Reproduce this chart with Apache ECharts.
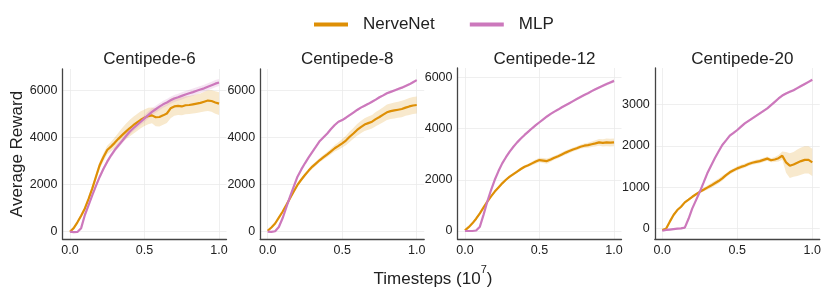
<!DOCTYPE html>
<html><head><meta charset="utf-8">
<script src="https://cdn.jsdelivr.net/npm/echarts@6/dist/echarts.min.js"></script>
<style>html,body{margin:0;padding:0;background:#fff}#c{width:830px;height:295px}</style>
</head><body><div id="c"></div>
<script>
const xs = [0,0.025,0.05,0.075,0.1,0.125,0.15,0.175,0.2,0.225,0.25,0.275,0.3,0.325,0.35,0.375,0.4,0.425,0.45,0.475,0.5,0.525,0.55,0.575,0.6,0.625,0.65,0.675,0.7,0.725,0.75,0.775,0.8,0.825,0.85,0.875,0.9,0.925,0.95,0.975,1.0];
const titles = ['Centipede-6','Centipede-8','Centipede-12','Centipede-20'];
const xTicks = [0,0.5,1.0];
const yTicks = [[0,2000,4000,6000],[0,2000,4000,6000],[0,2000,4000,6000],[0,1000,2000,3000]];

// Centipede-6
const nerve6 = [0,150,400,680,990,1400,1840,2350,2840,3180,3475,3620,3780,3950,4110,4260,4400,4530,4650,4760,4850,4920,4950,4870,4880,4950,5030,5250,5330,5350,5330,5380,5390,5420,5450,5480,5530,5580,5560,5500,5450];
const nerve6Sd = [20,40,60,80,100,120,140,150,160,170,180,200,230,260,300,330,350,360,360,360,350,350,340,380,400,400,400,420,400,380,380,380,380,390,400,400,420,440,460,480,480];
const mlp6 = [0,-20,-10,150,710,1130,1560,1960,2340,2680,2980,3240,3475,3670,3860,4060,4255,4400,4540,4680,4820,4960,5100,5210,5320,5420,5500,5590,5670,5720,5780,5840,5890,5940,6000,6050,6100,6170,6230,6300,6350];
const mlp6Sd = [20,20,30,50,60,70,80,80,90,90,100,100,110,110,120,120,130,130,140,140,150,150,150,150,150,150,150,150,150,150,150,150,150,150,150,150,150,150,150,150,150];
// Centipede-8
const nerve8 = [40,180,350,600,850,1130,1420,1710,1990,2210,2410,2600,2770,2910,3050,3170,3290,3420,3550,3650,3760,3880,4040,4180,4330,4450,4560,4620,4680,4790,4880,4980,5080,5130,5160,5190,5220,5280,5330,5370,5390];
const nerve8Sd = [20,30,40,50,60,60,70,70,80,80,80,80,90,90,100,100,110,120,140,160,180,200,220,230,250,260,270,280,290,300,310,320,330,330,340,340,350,350,360,360,360];
const mlp8 = [0,-10,20,200,570,1030,1490,1920,2340,2640,2910,3160,3400,3630,3860,4020,4180,4370,4540,4680,4750,4850,4960,5070,5180,5280,5360,5440,5530,5620,5720,5800,5890,5950,6010,6070,6130,6200,6270,6360,6450];
const mlp8Sd = [20,20,30,30,40,40,40,40,50,50,50,50,50,50,50,50,50,50,50,50,50,50,50,50,50,50,50,50,50,50,50,50,50,50,50,50,50,50,50,50,50];
// Centipede-12
const nerve12 = [25,150,300,480,690,920,1150,1350,1540,1700,1860,2000,2120,2220,2320,2420,2510,2570,2640,2710,2770,2750,2730,2790,2860,2920,2990,3060,3120,3180,3230,3290,3330,3350,3385,3420,3460,3440,3460,3450,3460];
const nerve12Sd = [10,20,30,40,40,50,50,50,50,50,50,50,50,50,50,60,60,60,70,80,90,100,100,90,80,80,80,80,80,80,80,80,90,100,110,120,130,140,150,150,150];
const mlp12 = [0,0,0,20,170,640,1150,1600,2000,2340,2640,2880,3100,3290,3460,3610,3750,3880,4010,4130,4245,4360,4470,4570,4660,4740,4830,4910,4990,5070,5150,5230,5310,5380,5460,5530,5600,5670,5740,5800,5860];
const mlp12Sd = [10,10,10,20,30,30,40,40,40,40,40,40,40,40,40,40,40,40,40,40,40,40,40,40,40,40,40,40,40,40,40,40,40,40,50,50,50,50,60,60,60];
// Centipede-20
const nerve20 = [-30,0,170,330,450,530,635,700,770,830,890,940,990,1040,1095,1150,1215,1290,1360,1410,1455,1490,1520,1560,1590,1610,1630,1660,1690,1650,1670,1700,1760,1600,1520,1550,1590,1630,1660,1660,1600];
const nerve20Sd = [30,30,30,30,30,30,30,30,30,30,30,40,50,60,60,60,60,50,50,50,50,50,50,50,50,50,50,50,50,50,60,80,100,250,300,300,320,330,330,330,330];
const mlp20 = [-50,-30,-20,-10,0,10,25,240,490,690,890,1110,1335,1520,1700,1860,2020,2130,2245,2310,2380,2460,2540,2600,2660,2720,2780,2840,2900,2980,3060,3140,3210,3260,3300,3340,3390,3440,3490,3540,3590];
const mlp20Sd = [20,20,20,20,20,20,20,30,30,30,30,30,30,30,30,30,30,30,30,30,30,30,30,30,30,30,30,30,30,30,30,30,30,30,30,30,30,30,30,30,30];

const nerveAll = [nerve6, nerve8, nerve12, nerve20];
const nerveSdAll = [nerve6Sd, nerve8Sd, nerve12Sd, nerve20Sd];
const mlpAll = [mlp6, mlp8, mlp12, mlp20];
const mlpSdAll = [mlp6Sd, mlp8Sd, mlp12Sd, mlp20Sd];

const ORANGE = '#de8f05', PINK = '#cc78bc';
const FONT = '"Liberation Sans", Arial, sans-serif';

const gridPos = [
  {left: 62.5, top: 69, width: 164, height: 170},
  {left: 260.2, top: 69, width: 164, height: 170},
  {left: 457.5, top: 68, width: 164, height: 171},
  {left: 654.8, top: 68, width: 165, height: 171}
];
const yRange = [[-311, 6923], [-311, 6923], [-312, 6363], [-248, 3875]];

function bandRender(fill) {
  return function (params, api) {
    if (params.dataIndex !== 0) return null;
    const n = params.dataInsideLength !== undefined ? xs.length : xs.length;
    const top = [], bot = [];
    // data is read through api for each index via closure stored on series
    const data = this.__data;
    return null;
  };
}

const grids = [], xAxes = [], yAxes = [], series = [], titleArr = [];
for (let i = 0; i < 4; i++) {
  grids.push(Object.assign({containLabel: false}, gridPos[i]));
  xAxes.push({
    type: 'value', gridIndex: i, min: -0.05, max: 1.05,
    axisLine: {show: true, onZero: false, lineStyle: {color: '#444', width: 1.3}},
    axisTick: {show: false, customValues: xTicks},
    axisLabel: {customValues: xTicks, formatter: v => v.toFixed(1), color: '#222', fontSize: 12.5, fontFamily: FONT, margin: 5},
    splitLine: {show: true, lineStyle: {color: '#ebebeb', width: 0.8}}
  });
  const ya = {
    type: 'value', gridIndex: i, min: yRange[i][0], max: yRange[i][1],
    axisLine: {show: true, onZero: false, lineStyle: {color: '#444', width: 1.3}},
    axisTick: {show: false, customValues: yTicks[i]},
    axisLabel: {customValues: yTicks[i], formatter: v => String(v), color: '#222', fontSize: 12.5, fontFamily: FONT, margin: 5},
    splitLine: {show: true, lineStyle: {color: '#ebebeb', width: 0.8}}
  };
  if (i === 0) {
    Object.assign(ya, {name: 'Average Reward', nameLocation: 'middle', nameGap: 37,
      nameTextStyle: {fontSize: 17, color: '#222', fontFamily: FONT}});
  }
  yAxes.push(ya);
  titleArr.push({text: titles[i], left: gridPos[i].left + gridPos[i].width / 2, top: 46, textAlign: 'center',
    textStyle: {fontSize: 17, fontWeight: 'normal', color: '#222', fontFamily: FONT}});

  const groups = [
    {name: 'NerveNet', mean: nerveAll[i], sd: nerveSdAll[i], color: ORANGE, band: 'rgba(222,143,5,0.2)', z: 3},
    {name: 'MLP', mean: mlpAll[i], sd: mlpSdAll[i], color: PINK, band: 'rgba(204,120,188,0.2)', z: 4}
  ];
  groups.forEach(g => {
    const bandData = xs.map((x, j) => [x, g.mean[j] - g.sd[j], g.mean[j] + g.sd[j]]);
    series.push({
      type: 'custom', name: g.name + '_band', xAxisIndex: i, yAxisIndex: i,
      data: bandData, silent: true, z: 1, animation: false,
      encode: {x: 0, y: [1, 2]},
      clip: true,
      renderItem: function (params, api) {
        if (params.dataIndex !== 0) return null;
        const upper = bandData.map(d => api.coord([d[0], d[2]]));
        const lower = bandData.map(d => api.coord([d[0], d[1]])).reverse();
        return {
          type: 'polygon',
          shape: {points: upper.concat(lower)},
          style: {fill: g.band, stroke: null}
        };
      }
    });
  });
  groups.forEach(g => {
    series.push({
      type: 'line', name: g.name, xAxisIndex: i, yAxisIndex: i,
      data: xs.map((x, j) => [x, g.mean[j]]),
      showSymbol: false, lineStyle: {color: g.color, width: 2.2}, itemStyle: {color: g.color}, z: g.z, animation: false
    });
  });
}
titleArr.push({
  text: '{a|Timesteps (10}{s|7}{a|)}', left: 428, top: 259, textAlign: 'center',
  textStyle: {fontWeight: 'normal', rich: {
    a: {fontSize: 17, color: '#222', fontFamily: FONT, fontWeight: 'normal', verticalAlign: 'bottom', lineHeight: 24},
    s: {fontSize: 11, color: '#222', fontFamily: FONT, fontWeight: 'normal', verticalAlign: 'top', lineHeight: 24, padding: [0, 0, 8, 0]}
  }}
});

const chart = echarts.init(document.getElementById('c'), null, {renderer: 'canvas'});
chart.setOption({
  animation: false,
  title: titleArr,
  legend: {
    data: ['NerveNet', 'MLP'], left: 309, top: 11, icon: 'rect', itemWidth: 34, itemHeight: 4, itemGap: 35,
    selectedMode: false,
    textStyle: {fontSize: 17, color: '#222', fontFamily: FONT, padding: [0, 0, 0, 10]}
  },
  grid: grids, xAxis: xAxes, yAxis: yAxes, series: series
});
</script></body></html>
